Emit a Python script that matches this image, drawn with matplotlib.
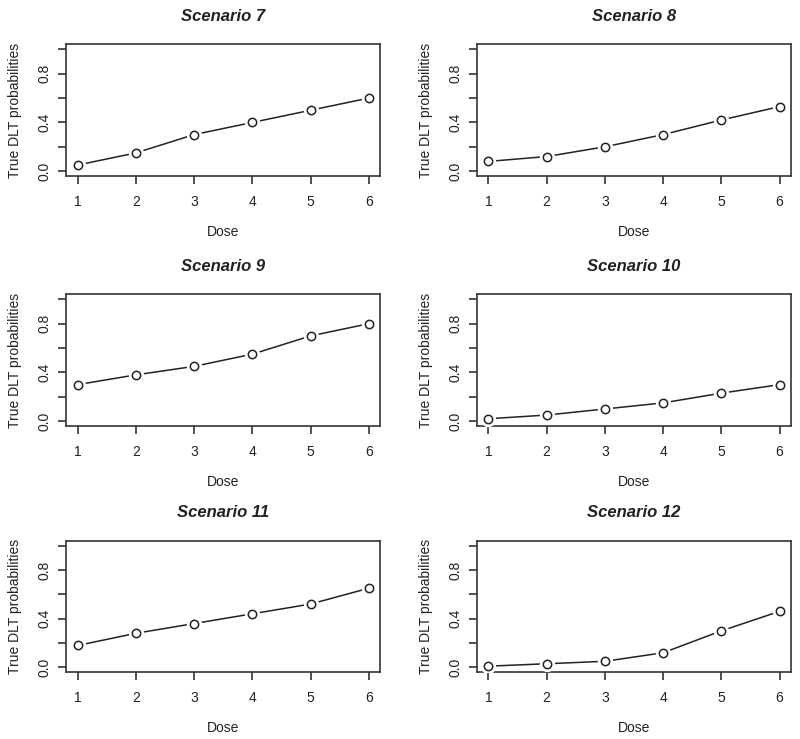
import matplotlib
matplotlib.use("Agg")
import matplotlib.pyplot as plt

plt.rcParams['font.family'] = ['Liberation Sans', 'DejaVu Sans']

doses = [1, 2, 3, 4, 5, 6]
titles = ["Scenario 7", "Scenario 8", "Scenario 9",
          "Scenario 10", "Scenario 11", "Scenario 12"]
sc7 = [0.05, 0.15, 0.30, 0.40, 0.50, 0.60]
sc8 = [0.08, 0.12, 0.20, 0.30, 0.42, 0.53]
sc9 = [0.30, 0.38, 0.45, 0.55, 0.70, 0.80]
sc10 = [0.02, 0.05, 0.10, 0.15, 0.23, 0.30]
sc11 = [0.18, 0.28, 0.36, 0.44, 0.52, 0.65]
sc12 = [0.01, 0.03, 0.05, 0.12, 0.30, 0.46]
y_ticks = [0.0, 0.2, 0.4, 0.6, 0.8, 1.0]
y_labels = ["0.0", "", "0.4", "", "0.8", ""]
series = [sc7, sc8, sc9, sc10, sc11, sc12]

ink = "#222222"
fig = plt.figure(figsize=(8, 7.39), dpi=100)

# axes boxes in figure fractions (left, bottom, width, height)
lefts = [0.0825, 0.596]
bottoms = [0.7618, 0.4235, 0.0903]
w = 0.393
h = 0.178

for i in range(6):
    row = i // 2
    col = i % 2
    ax = fig.add_axes([lefts[col], bottoms[row], w, h])
    # line first, then white halo, then open circles -> R type="b" look
    ax.plot(doses, series[i], color=ink, lw=1.1, zorder=2)
    ax.plot(doses, series[i], ls="none", marker="o", ms=10,
            mfc="white", mec="white", zorder=3)
    ax.plot(doses, series[i], ls="none", marker="o", ms=6,
            mfc="white", mec=ink, mew=1.1, zorder=4)
    ax.set_xlim(0.8, 6.2)
    ax.set_ylim(-0.04, 1.04)
    ax.set_xticks(doses)
    ax.set_yticks(y_ticks)
    ax.set_yticklabels(y_labels, rotation=90, va="center")
    ax.tick_params(axis="both", direction="out", length=5.5, width=1.1,
                   colors=ink, labelsize=10)
    ax.tick_params(axis="x", pad=8)
    ax.tick_params(axis="y", pad=5)
    for s in ax.spines.values():
        s.set_color("#333333")
        s.set_linewidth(1.2)
    ax.set_title(titles[i], fontsize=12, fontweight="bold", style="italic",
                 color=ink, pad=17)
    ax.set_xlabel("Dose", fontsize=10, color=ink, labelpad=11.5)
    ax.set_ylabel("True DLT probabilities", fontsize=10, color=ink,
                  labelpad=11)

fig.savefig("out.png", dpi=100)
